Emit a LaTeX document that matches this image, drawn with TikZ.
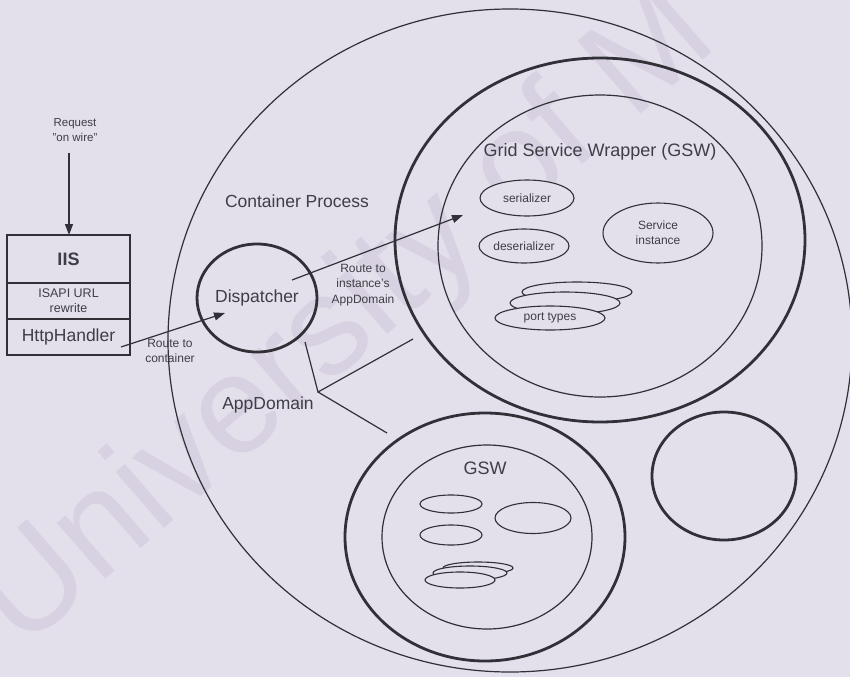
\documentclass[tikz,border=0pt]{standalone}
\usepackage{fontspec}
\setmainfont{Liberation Sans}
\usetikzlibrary{shapes.geometric,arrows.meta}
\definecolor{paper}{RGB}{227,223,235}
\definecolor{ink}{RGB}{48,48,54}
\definecolor{txt}{RGB}{62,62,68}
\definecolor{wmark}{RGB}{216,209,226}

\begin{document}
\begin{tikzpicture}[x=1pt,y=-1pt,
  every node/.style={text=txt},
  ring/.style={ellipse,draw=ink,line width=1.2pt,inner sep=0pt,outer sep=0pt},
  bold ring/.style={ellipse,draw=ink,line width=2.8pt,inner sep=0pt,outer sep=0pt},
  pod/.style={ellipse,draw=ink,line width=1.1pt,fill=paper,inner sep=0pt,outer sep=0pt,
    align=center,font=\fontsize{12}{14}\selectfont},
  big label/.style={font=\fontsize{17.5}{20}\selectfont},
  small label/.style={font=\fontsize{12}{15.5}\selectfont,align=center},
  flow/.style={draw=ink,line width=1.2pt,-{Triangle[length=11pt,width=8pt]}},
  link/.style={draw=ink,line width=1.2pt},
  cell/.style={draw=ink,line width=1.2pt,minimum width=123pt,inner sep=0pt,
    outer sep=0pt,align=center,anchor=north west},
]
% page and background
\useasboundingbox (0,0) rectangle (850,677);
\fill[paper] (0,0) rectangle (850,677);
\begin{scope}
  \clip (0,0) rectangle (850,677);
  \node[rotate=41,anchor=base west,text=wmark,inner sep=0pt,
    font=\fontsize{140}{140}\selectfont] (stamp) at (22,652) {University of M};
\end{scope}

% container process and its application domains
\node[ring,minimum width=684pt,minimum height=663pt] (container) at (510,340.5) {};
\node[bold ring,minimum width=410pt,minimum height=364pt] (domA) at (600,240) {};
\node[ring,minimum width=324pt,minimum height=302pt] (gswA) at (600,246) {};
\node[bold ring,minimum width=280pt,minimum height=248pt] (domB) at (485,537) {};
\node[ring,minimum width=210pt,minimum height=184pt] (gswB) at (487,537) {};
\node[bold ring,minimum width=144pt,minimum height=128pt] (domC) at (724,476) {};
\node[bold ring,minimum width=120pt,minimum height=108pt,big label] (disp) at (257,298) {Dispatcher};

% labels
\node[big label] (lblcp) at (297,201) {Container Process};
\node[big label] (lblad) at (268,405) {AppDomain};
\node[font=\fontsize{18}{20}\selectfont] (lblgswA) at (600,152) {Grid Service Wrapper (GSW)};
\node[font=\fontsize{18}{20}\selectfont] (lblgswB) at (485,468) {GSW};

% upper wrapper contents
\node[pod,minimum width=94pt,minimum height=36pt] (ser) at (527,198) {serializer};
\node[pod,minimum width=90pt,minimum height=34pt] (deser) at (524,246) {deserializer};
\node[pod,minimum width=110pt,minimum height=60pt,font=\fontsize{12}{15}\selectfont] (svc) at (658,233) {Service\\instance};
\node[pod,minimum width=110pt,minimum height=20pt] (ptA) at (577,292) {};
\node[pod,minimum width=110pt,minimum height=22pt] (ptB) at (565,303) {};
\node[pod,minimum width=110pt,minimum height=24pt] (ptC) at (550,318) {port types};

% lower wrapper contents
\node[pod,minimum width=62pt,minimum height=18pt] (serB) at (451,504) {};
\node[pod,minimum width=62pt,minimum height=20pt] (deserB) at (451,535) {};
\node[pod,minimum width=76pt,minimum height=31pt] (svcB) at (533,518) {};
\node[pod,minimum width=70pt,minimum height=12pt] (ptBa) at (478,568) {};
\node[pod,minimum width=74pt,minimum height=14pt] (ptBb) at (470,573) {};
\node[pod,minimum width=70pt,minimum height=16pt] (ptBc) at (460,580) {};

% IIS stack
\node[cell,minimum height=48pt,font=\fontsize{18}{20}\selectfont\bfseries] (iis) at (7,235) {IIS};
\node[cell,minimum height=36pt,font=\fontsize{12.5}{15}\selectfont] (isapi) at (iis.south west) {ISAPI URL\\rewrite};
\node[cell,minimum height=36pt,font=\fontsize{17.5}{20}\selectfont] (handler) at (isapi.south west) {HttpHandler};
\node[small label,font=\fontsize{11.5}{15.5}\selectfont] (req) at (75,130) {Request\\"on wire"};

% routing
\node[small label] (lblrc) at (170,351) {Route to\\container};
\node[small label] (lblri) at (363,285) {Route to\\instance's\\AppDomain};

\coordinate (wire) at (69,153);
\draw[flow] (wire) -- (wire |- iis.north);
\coordinate (hout) at (121,347);
\coordinate (din) at (225,313);
\draw[flow] (hout) -- (din);
\coordinate (dout) at (292,280);
\coordinate (gin) at (463,215);
\draw[flow] (dout) -- (gin);

% application domain pointer
\coordinate (fork) at (318,392);
\coordinate (forkA) at (305,342);
\coordinate (forkB) at (413,339);
\coordinate (forkC) at (387,433);
\draw[link] (forkA) -- (fork) -- (forkB);
\draw[link] (fork) -- (forkC);
\end{tikzpicture}
\end{document}
